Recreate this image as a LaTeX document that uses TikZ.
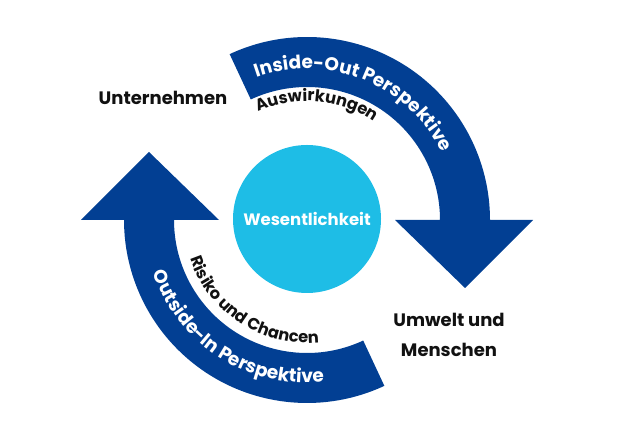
\documentclass[tikz,border=0pt]{standalone}
\usepackage{fontspec}
\setmainfont{Poppins}
\usetikzlibrary{decorations.text,positioning}
\definecolor{Ink}{HTML}{111111}
\definecolor{Navy}{HTML}{023F93}
\definecolor{Sky}{HTML}{1EBDE6}
\newcommand\bandfont{\fontsize{18.5}{19}\selectfont\bfseries}
\newcommand\edgefont{\fontsize{16.3}{17}\selectfont\bfseries}
\tikzset{
  band/.style={fill=Navy},
  curved/.style={decorate,decoration={text along path,text align=center,text={#1}}},
  onband/.style={font=\bandfont,curved={|\bandfont\color{white}|#1}},
  offband/.style={font=\edgefont,curved={|\edgefont\color{Ink}|#1}},
  side/.style={font=\fontsize{18}{30}\selectfont\bfseries,text=Ink,align=center},
  core/.style={circle,fill=Sky,minimum size=148pt,inner sep=0pt,text=white,font=\fontsize{16.5}{16.5}\selectfont\bfseries}
}
\begin{document}
\begin{tikzpicture}[x=1pt,y=1pt]
\useasboundingbox (0,0) rectangle (631,443);
\coordinate (c) at (307,223);
% Inside-Out arrow
\fill[band,shift={(c)}] (115:183) arc[start angle=115,end angle=0,radius=183]
  -- ++(43,0) -- ++(-68,-68) -- ++(-70,68) -- ++(45,0)
  arc[start angle=0,end angle=115,radius=133] -- cycle;
% Outside-In arrow
\fill[band,shift={(c)}] (295:183) arc[start angle=295,end angle=180,radius=183]
  -- ++(-43,0) -- ++(68,68) -- ++(70,-68) -- ++(-45,0)
  arc[start angle=180,end angle=295,radius=133] -- cycle;
\node[core] (core) at (307,224) {Wesentlichkeit};
\node[side] (firm) at (163,345) {Unternehmen};
\node[side] (world) at (449,108) {Umwelt und\\Menschen};
% curved labels
\path[onband={Inside-Out Perspektive},shift={(c)}] (120:151) arc[start angle=120,end angle=16,radius=151];
\path[offband={Auswirkungen},shift={(c)}] (115:119) arc[start angle=115,end angle=55,radius=119];
\path[onband={Outside-In Perspektive},shift={(c)}] (187:163) arc[start angle=187,end angle=288,radius=163];
\path[offband={Risiko und Chancen},shift={(c)}] (188:123) arc[start angle=188,end angle=286,radius=123];
\end{tikzpicture}
\end{document}
